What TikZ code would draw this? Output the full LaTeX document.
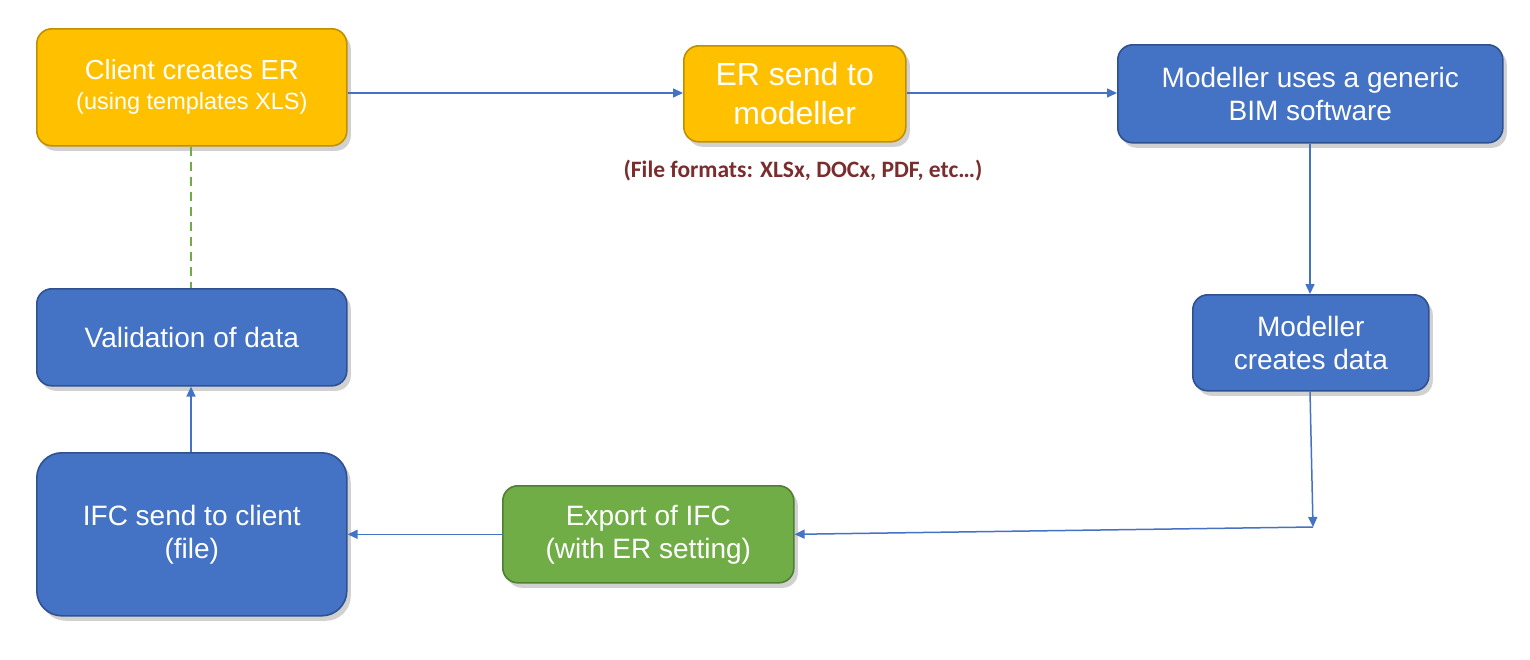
\documentclass[tikz,border=0pt]{standalone}
\usepackage{fontspec}
\setmainfont{Liberation Sans}
\newfontfamily\calib{Carlito}
\usetikzlibrary{arrows.meta,shadows}
\definecolor{bfill}{HTML}{4472C4}
\definecolor{bdraw}{HTML}{2F528F}
\definecolor{yfill}{HTML}{FFC000}
\definecolor{ydraw}{HTML}{BF9000}
\definecolor{gfill}{HTML}{70AD47}
\definecolor{gdraw}{HTML}{507E32}
\definecolor{lblred}{HTML}{7B2D2D}
\tikzset{
  box/.style={rounded corners=15pt, line width=1.6pt, text=white, align=center,
    inner sep=0pt, anchor=north west,
    drop shadow={shadow xshift=4pt, shadow yshift=-5pt, fill=black, opacity=0.18}},
  bluebox/.style={box, fill=bfill, draw=bdraw},
  yellowbox/.style={box, fill=yfill, draw=ydraw},
  greenbox/.style={box, fill=gfill, draw=gdraw},
  arr/.style={draw=bfill, line width=1.5pt, -{Triangle[length=10pt,width=9pt]}},
  dashlink/.style={draw=gfill, line width=2.2pt, dash pattern=on 9pt off 6pt}
}
\begin{document}
\begin{tikzpicture}[x=1pt,y=-1pt]
\useasboundingbox (0,0) rectangle (1530,659);
\fill[white] (0,0) rectangle (1530,659);
% nodes
\node[yellowbox, minimum width=310pt, minimum height=117pt,
  font=\fontsize{27.5}{30}\selectfont] (client) at (36,28)
  {Client creates ER\\{\fontsize{23.5}{30}\selectfont (using templates XLS)}};
\node[yellowbox, minimum width=222pt, minimum height=96pt,
  font=\fontsize{32}{39}\selectfont] (ersend) at (683,45)
  {ER send to\\modeller};
\node[bluebox, minimum width=385pt, minimum height=98pt,
  font=\fontsize{28}{33}\selectfont] (bim) at (1117,44)
  {Modeller uses a generic\\BIM software};
\node[bluebox, minimum width=236pt, minimum height=96pt,
  font=\fontsize{28}{33}\selectfont] (mcd) at (1192,294)
  {Modeller\\creates data};
\node[bluebox, minimum width=310pt, minimum height=97pt,
  font=\fontsize{28}{33}\selectfont] (valid) at (36,288)
  {Validation of data};
\node[bluebox, rounded corners=25pt, minimum width=310pt, minimum height=163pt,
  font=\fontsize{28}{33}\selectfont] (ifc) at (36,452)
  {IFC send to client\\(file)};
\node[greenbox, minimum width=291pt, minimum height=97pt,
  font=\fontsize{28}{33}\selectfont] (export) at (502,485)
  {Export of IFC\\(with ER setting)};
\node[text=lblred, font=\calib\bfseries\fontsize{23.5}{28}\selectfont] (lbl) at (803,171)
  {(File formats: XLSx, DOCx, PDF, etc…)};
% connectors
\coordinate (corner) at (1313,527);
\draw[arr] (client.east |- 0,93) -- (ersend.west |- 0,93);
\draw[arr] (ersend.east |- 0,93) -- (bim.west |- 0,93);
\draw[arr] (bim.south -| 1310,0) -- (mcd.north -| 1310,0);
\draw[arr] (mcd.south -| 1310,0) -- (corner);
\draw[arr] (corner) -- (export.east);
\draw[arr] (export.west) -- (ifc.east |- export.west);
\draw[arr] (ifc.north -| 191,0) -- (valid.south -| 191,0);
\draw[dashlink] (client.south -| 191,0) -- (valid.north -| 191,0);
\end{tikzpicture}
\end{document}
